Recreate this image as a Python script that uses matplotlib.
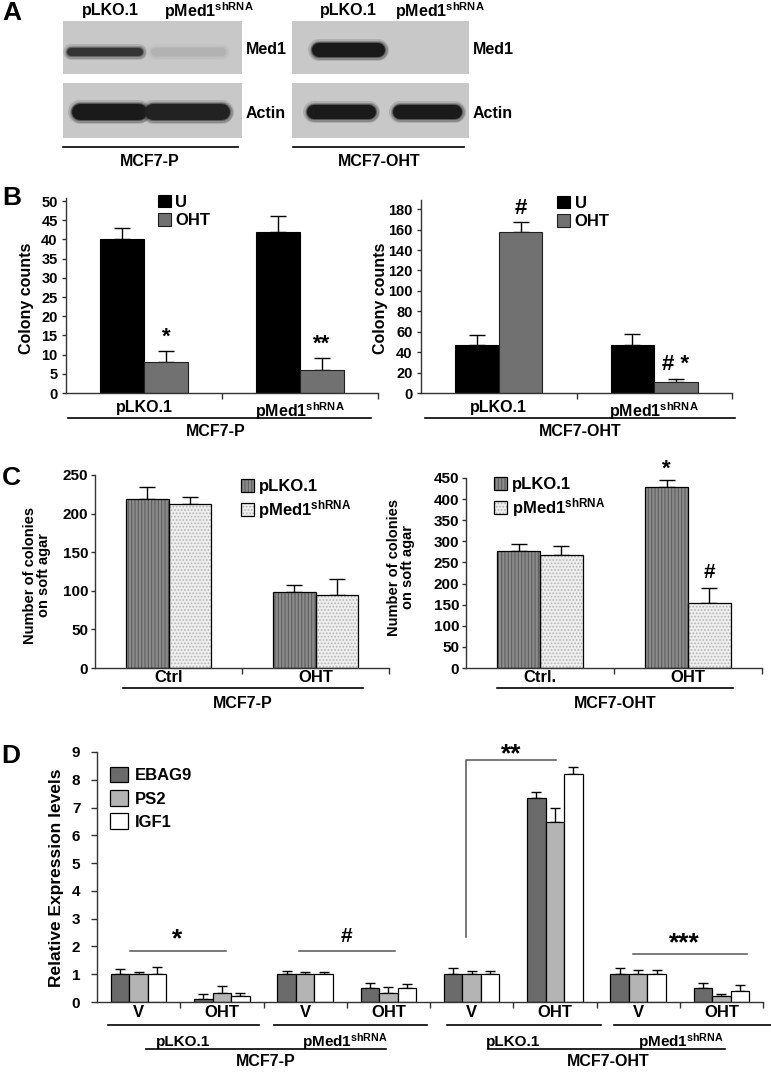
import matplotlib
matplotlib.use('Agg')
import matplotlib.pyplot as plt
from matplotlib.lines import Line2D
from matplotlib.legend_handler import HandlerTuple
import numpy as np

plt.rcParams['font.family'] = ['Liberation Sans', 'DejaVu Sans']
plt.rcParams['font.weight'] = 'bold'
plt.rcParams['mathtext.fontset'] = 'custom'
plt.rcParams['mathtext.rm'] = 'Liberation Sans:bold'
plt.rcParams['mathtext.bf'] = 'Liberation Sans:bold'
plt.rcParams['mathtext.it'] = 'Liberation Sans:bold'
plt.rcParams['hatch.linewidth'] = 0.8

SH = r'pMed1$^{\mathrm{shRNA}}$'

# ---------------- data ----------------
# Panel A (western blot band intensities, lanes: pLKO.1, pMed1shRNA)
blot_lanes = ['pLKO.1', SH]
med1_P = [0.85, 0.12]
actin_P = [1.0, 0.95]
med1_OHT = [1.0, 0.0]
actin_OHT = [1.0, 1.0]

# Panel B colony counts
b_groups = ['pLKO.1', SH]
b_series = ['U', 'OHT']
bP_U = [40, 42]
bP_U_err = [3, 4]
bP_OHT = [8, 6]
bP_OHT_err = [3, 3]
bP_marks = ['*', '**']
bO_U = [47, 47]
bO_U_err = [10, 11]
bO_OHT = [158, 11]
bO_OHT_err = [9, 3]
bO_marks = ['#', '# *']

# Panel C soft agar colonies
c_groups_P = ['Ctrl', 'OHT']
c_groups_O = ['Ctrl.', 'OHT']
c_series = ['pLKO.1', SH]
cP_pLKO = [219, 98]
cP_pLKO_err = [15, 9]
cP_pMed1 = [212, 94]
cP_pMed1_err = [10, 21]
cO_pLKO = [277, 429]
cO_pLKO_err = [16, 16]
cO_pMed1 = [268, 154]
cO_pMed1_err = [21, 35]
cO_marks_pLKO = ['', '*']
cO_marks_pMed1 = ['', '#']

# Panel D relative expression
d_groups = ['V', 'OHT', 'V', 'OHT', 'V', 'OHT', 'V', 'OHT']
d_series = ['EBAG9', 'PS2', 'IGF1']
ebag9 = [1.0, 0.1, 1.0, 0.5, 1.0, 7.33, 1.0, 0.5]
ebag9_err = [0.19, 0.18, 0.13, 0.18, 0.23, 0.22, 0.23, 0.2]
ps2 = [1.0, 0.32, 1.0, 0.32, 1.0, 6.48, 1.0, 0.22]
ps2_err = [0.09, 0.25, 0.09, 0.21, 0.12, 0.5, 0.14, 0.08]
igf1 = [1.0, 0.22, 1.0, 0.5, 1.0, 8.2, 1.0, 0.4]
igf1_err = [0.27, 0.12, 0.09, 0.14, 0.12, 0.25, 0.14, 0.22]

# ---------------- helpers ----------------
W, H = 771, 1072
fig = plt.figure(figsize=(W / 100, H / 100), dpi=100)


def add_ax(x0, y0, x1, y1):
    return fig.add_axes([x0 / W, 1 - y1 / H, (x1 - x0) / W, (y1 - y0) / H])


def ftext(x, y, s, **kw):
    kw.setdefault('ha', 'center')
    kw.setdefault('va', 'center')
    kw.setdefault('fontweight', 'bold')
    fig.text(x / W, 1 - y / H, s, **kw)


def fline(x0, x1, y, color='black', lw=1.2):
    fig.add_artist(Line2D([x0 / W, x1 / W], [1 - y / H, 1 - y / H],
                          transform=fig.transFigure, color=color, lw=lw))


def draw_blot(rect, intens, yfrac, hpx, offsets, widths):
    x0, y0, x1, y1 = rect
    ax = add_ax(*rect)
    ax.set_xlim(-0.5, len(intens) - 0.5)
    ax.set_ylim(0, 1)
    ax.set_facecolor('#c8c8c8')
    ax.set_xticks([])
    ax.set_yticks([])
    for s in ax.spines.values():
        s.set_visible(False)
    lane_px = (x1 - x0) / len(intens)
    bg, dark = 0.78, 0.1
    for i, v in enumerate(intens):
        if v <= 0:
            continue
        g = bg * (1 - v) + dark * v
        c = i + offsets[i]
        half = widths[i] / 2 - (hpx / 2) / lane_px
        for extra, a in [(8, 0.15), (5, 0.25), (2, 0.45)]:
            ax.plot([c - half, c + half], [yfrac, yfrac], color=(g, g, g),
                    lw=(hpx + extra) * 0.72, alpha=a, solid_capstyle='round')
        ax.plot([c - half, c + half], [yfrac, yfrac], color=(g, g, g),
                lw=hpx * 0.72, solid_capstyle='round')
    return ax


def style_ax(ax, ylim, yticks, tick_fs, xpad, ypad, ylen=3):
    ax.set_ylim(*ylim)
    ax.set_yticks(yticks)
    ax.set_facecolor('none')
    for s in ['top', 'right']:
        ax.spines[s].set_visible(False)
    for s in ['left', 'bottom']:
        ax.spines[s].set_color('#333333')
        ax.spines[s].set_linewidth(1.0)
    ax.tick_params(axis='y', length=ylen, width=1, pad=ypad, labelsize=tick_fs,
                   color='#333333')
    ax.tick_params(axis='x', which='major', length=0, pad=xpad)
    ax.tick_params(axis='x', which='minor', length=4, width=1, color='#333333')
    for lab in ax.get_yticklabels():
        lab.set_fontweight('bold')


def errbars(ax, x, vals, errs, capsize, lw=1.0):
    ax.errorbar(x, vals, yerr=[np.zeros(len(errs)), errs], fmt='none',
                ecolor='black', elinewidth=lw, capsize=capsize, capthick=lw,
                zorder=1)


# ---------------- Panel A ----------------
ftext(12, 13, 'A', fontsize=19)
draw_blot((63, 21, 242, 74), med1_P, 0.42, 8, [-0.03, -0.1], [0.84, 0.84])
draw_blot((63, 83, 242, 138), actin_P, 0.47, 16, [0.02, -0.11], [0.83, 0.95])
draw_blot((292, 21, 469, 74), med1_OHT, 0.45, 14, [0.14, 0.0], [0.82, 0.8])
draw_blot((292, 83, 469, 138), actin_OHT, 0.47, 14, [0.06, 0.03], [0.77, 0.78])
ftext(110, 11, blot_lanes[0], fontsize=11.5)
ftext(209, 11, blot_lanes[1], fontsize=11.5)
ftext(348, 11, blot_lanes[0], fontsize=11.5)
ftext(440, 11, blot_lanes[1], fontsize=11.5)
for x in (246, 473):
    ftext(x, 50, 'Med1', fontsize=11.5, ha='left')
    ftext(x, 113, 'Actin', fontsize=11.5, ha='left')
fline(63, 238, 147)
fline(293, 464, 147)
ftext(150, 162, 'MCF7-P', fontsize=11.5)
ftext(379, 162, 'MCF7-OHT', fontsize=11.5)

# ---------------- Panel B ----------------
ftext(12, 198, 'B', fontsize=19)
bw = 0.28
xb = np.arange(len(b_groups))


def panel_b(rect, ylim, yticks, U, Ue, O, Oe, marks, leg_xy):
    ax = add_ax(*rect)
    ax.set_xlim(-0.5, 1.5)
    errbars(ax, xb - bw / 2, U, Ue, 5.5)
    errbars(ax, xb + bw / 2, O, Oe, 5.5)
    h1 = ax.bar(xb - bw / 2, U, bw, color='black', edgecolor='black', lw=0.8,
                zorder=2, label=b_series[0])
    h2 = ax.bar(xb + bw / 2, O, bw, color='#717171', edgecolor='#202020', lw=0.8,
                zorder=2, label=b_series[1])
    style_ax(ax, ylim, yticks, 10.5, 5, 3)
    ax.set_xticks(xb)
    ax.set_xticklabels(b_groups, fontsize=11.5, fontweight='bold')
    ax.set_xticks([0.5, 1.5], minor=True)
    for i, m in enumerate(marks):
        if m:
            ax.annotate(m, (xb[i] + bw / 2, O[i] + Oe[i]), xytext=(0, 10),
                        textcoords='offset points', ha='center', va='center',
                        fontsize=16, fontweight='bold')
    ax.legend(handles=[h1, h2], loc='upper left',
              bbox_to_anchor=(leg_xy[0] / W, 1 - leg_xy[1] / H),
              bbox_transform=fig.transFigure, frameon=False, fontsize=12,
              handlelength=0.75, handleheight=0.75, handletextpad=0.3,
              labelspacing=0.2, borderpad=0, borderaxespad=0)
    return ax


panel_b((66, 198, 378, 393), (0, 50.8), range(0, 51, 5), bP_U, bP_U_err,
        bP_OHT, bP_OHT_err, bP_marks, (158, 195))
panel_b((421, 200, 732, 393), (0, 189), range(0, 181, 20), bO_U, bO_U_err,
        bO_OHT, bO_OHT_err, bO_marks, (557, 196))
ftext(26, 298, 'Colony counts', fontsize=11.5, rotation=90)
ftext(381, 298, 'Colony counts', fontsize=11.5, rotation=90)
fline(68, 371, 418)
fline(425, 735, 418)
ftext(216, 431, 'MCF7-P', fontsize=11.5)
ftext(580, 431, 'MCF7-OHT', fontsize=11.5)

# ---------------- Panel C ----------------
ftext(11, 478, 'C', fontsize=19)
cw = 0.29
xc = np.arange(2)


def panel_c(rect, ylim, yticks, A, Ae, B, Be, groups, marksA, marksB, leg_xy):
    ax = add_ax(*rect)
    ax.set_xlim(-0.5, 1.5)
    errbars(ax, xc - cw / 2, A, Ae, 5.5)
    errbars(ax, xc + cw / 2, B, Be, 5.5)
    a1 = ax.bar(xc - cw / 2, A, cw, color='#8c8c8c', edgecolor='#5c5c5c',
                hatch='|||||', lw=0, zorder=2)
    a2 = ax.bar(xc - cw / 2, A, cw, fill=False, edgecolor='black', lw=0.9, zorder=3)
    b1 = ax.bar(xc + cw / 2, B, cw, color='#eeeeee', edgecolor='#b5b5b5',
                hatch='.....', lw=0, zorder=2)
    b2 = ax.bar(xc + cw / 2, B, cw, fill=False, edgecolor='black', lw=0.9, zorder=3)
    style_ax(ax, ylim, yticks, 11, 1.5, 2)
    ax.set_xticks(xc)
    ax.set_xticklabels(groups, fontsize=12, fontweight='bold')
    ax.set_xticks([0.5, 1.5], minor=True)
    for i in range(2):
        if marksA[i]:
            ax.annotate(marksA[i], (xc[i] - cw / 2, A[i] + Ae[i]), xytext=(0, 8),
                        textcoords='offset points', ha='center', va='center',
                        fontsize=16, fontweight='bold')
        if marksB[i]:
            ax.annotate(marksB[i], (xc[i] + cw / 2, B[i] + Be[i]), xytext=(0, 11),
                        textcoords='offset points', ha='center', va='center',
                        fontsize=15, fontweight='bold')
    ax.legend(handles=[(a1[0], a2[0]), (b1[0], b2[0])], labels=c_series,
              handler_map={tuple: HandlerTuple(ndivide=1, pad=0)},
              loc='upper left', bbox_to_anchor=(leg_xy[0] / W, 1 - leg_xy[1] / H),
              bbox_transform=fig.transFigure, frameon=False, fontsize=12,
              handlelength=0.8, handleheight=0.8, handletextpad=0.25,
              labelspacing=0.25, borderpad=0, borderaxespad=0)
    return ax


panel_c((95, 475, 389, 668), (0, 250), range(0, 251, 50), cP_pLKO, cP_pLKO_err,
        cP_pMed1, cP_pMed1_err, c_groups_P, ['', ''], ['', ''], (241, 479))
panel_c((466, 478, 762, 668), (0, 450), range(0, 451, 50), cO_pLKO, cO_pLKO_err,
        cO_pMed1, cO_pMed1_err, c_groups_O, cO_marks_pLKO, cO_marks_pMed1, (494, 477))
ftext(37, 575, 'Number of colonies\non soft agar', fontsize=10.5, rotation=90,
      linespacing=1.05)
ftext(401, 567, 'Number of colonies\non soft agar', fontsize=10.5, rotation=90,
      linespacing=1.05)
fline(123, 363, 688)
fline(497, 733, 688)
ftext(243, 703, 'MCF7-P', fontsize=11.5)
ftext(615, 703, 'MCF7-OHT', fontsize=11.5)

# ---------------- Panel D ----------------
ftext(11, 756, 'D', fontsize=19)
axd = add_ax(97, 752, 763, 1002)
xd = np.arange(len(d_groups))
dw = 0.222
cols = ['#6b6b6b', '#b4b4b4', 'white']
handles = []
for k, (vals, errs) in enumerate([(ebag9, ebag9_err), (ps2, ps2_err), (igf1, igf1_err)]):
    xs = xd + (k - 1) * dw
    errbars(axd, xs, vals, errs, 3.5)
    handles.append(axd.bar(xs, vals, dw, color=cols[k], edgecolor='black', lw=0.9,
                           zorder=2, label=d_series[k]))
axd.set_xlim(-0.5, 7.5)
style_ax(axd, (0, 9), range(0, 10), 11, 2, 8, ylen=4)
axd.set_xticks(xd)
axd.set_xticklabels(d_groups, fontsize=12, fontweight='bold')
axd.set_xticks(np.arange(0.5, 8, 1), minor=True)
axd.legend(handles=handles, loc='upper left',
           bbox_to_anchor=(110 / W, 1 - 767 / H), bbox_transform=fig.transFigure,
           frameon=False, fontsize=12, handlelength=1.05, handleheight=1.05,
           handletextpad=0.45, labelspacing=0.4, borderpad=0, borderaxespad=0)
sig_col = '#555555'
axd.plot([-0.1, 1.05], [1.83, 1.83], color=sig_col, lw=1.1)
axd.text(0.46, 2.25, '*', ha='center', va='center', fontsize=19, fontweight='bold')
axd.plot([1.93, 3.08], [1.83, 1.83], color=sig_col, lw=1.1)
axd.text(2.5, 2.35, '#', ha='center', va='center', fontsize=15, fontweight='bold')
axd.plot([3.93, 3.93, 5.01], [2.34, 8.7, 8.7], color=sig_col, lw=1.1)
axd.text(4.48, 8.9, '**', ha='center', va='center', fontsize=19, fontweight='bold')
axd.plot([5.94, 7.31], [1.73, 1.73], color=sig_col, lw=1.1)
axd.text(6.56, 2.1, '***', ha='center', va='center', fontsize=19, fontweight='bold')
ftext(57, 878, 'Relative Expression levels', fontsize=12.5, rotation=90)
fline(108, 259, 1025)
fline(274, 427, 1025)
fline(447, 601, 1025)
fline(614, 771, 1025)
ftext(183, 1042, 'pLKO.1', fontsize=11)
ftext(345, 1042, SH, fontsize=11)
ftext(513, 1042, 'pLKO.1', fontsize=11)
ftext(681, 1042, SH, fontsize=11)
fline(146, 386, 1049)
fline(488, 725, 1049)
ftext(266, 1062, 'MCF7-P', fontsize=11.5)
ftext(608, 1062, 'MCF7-OHT', fontsize=11.5)

fig.savefig('out.png', dpi=100)
